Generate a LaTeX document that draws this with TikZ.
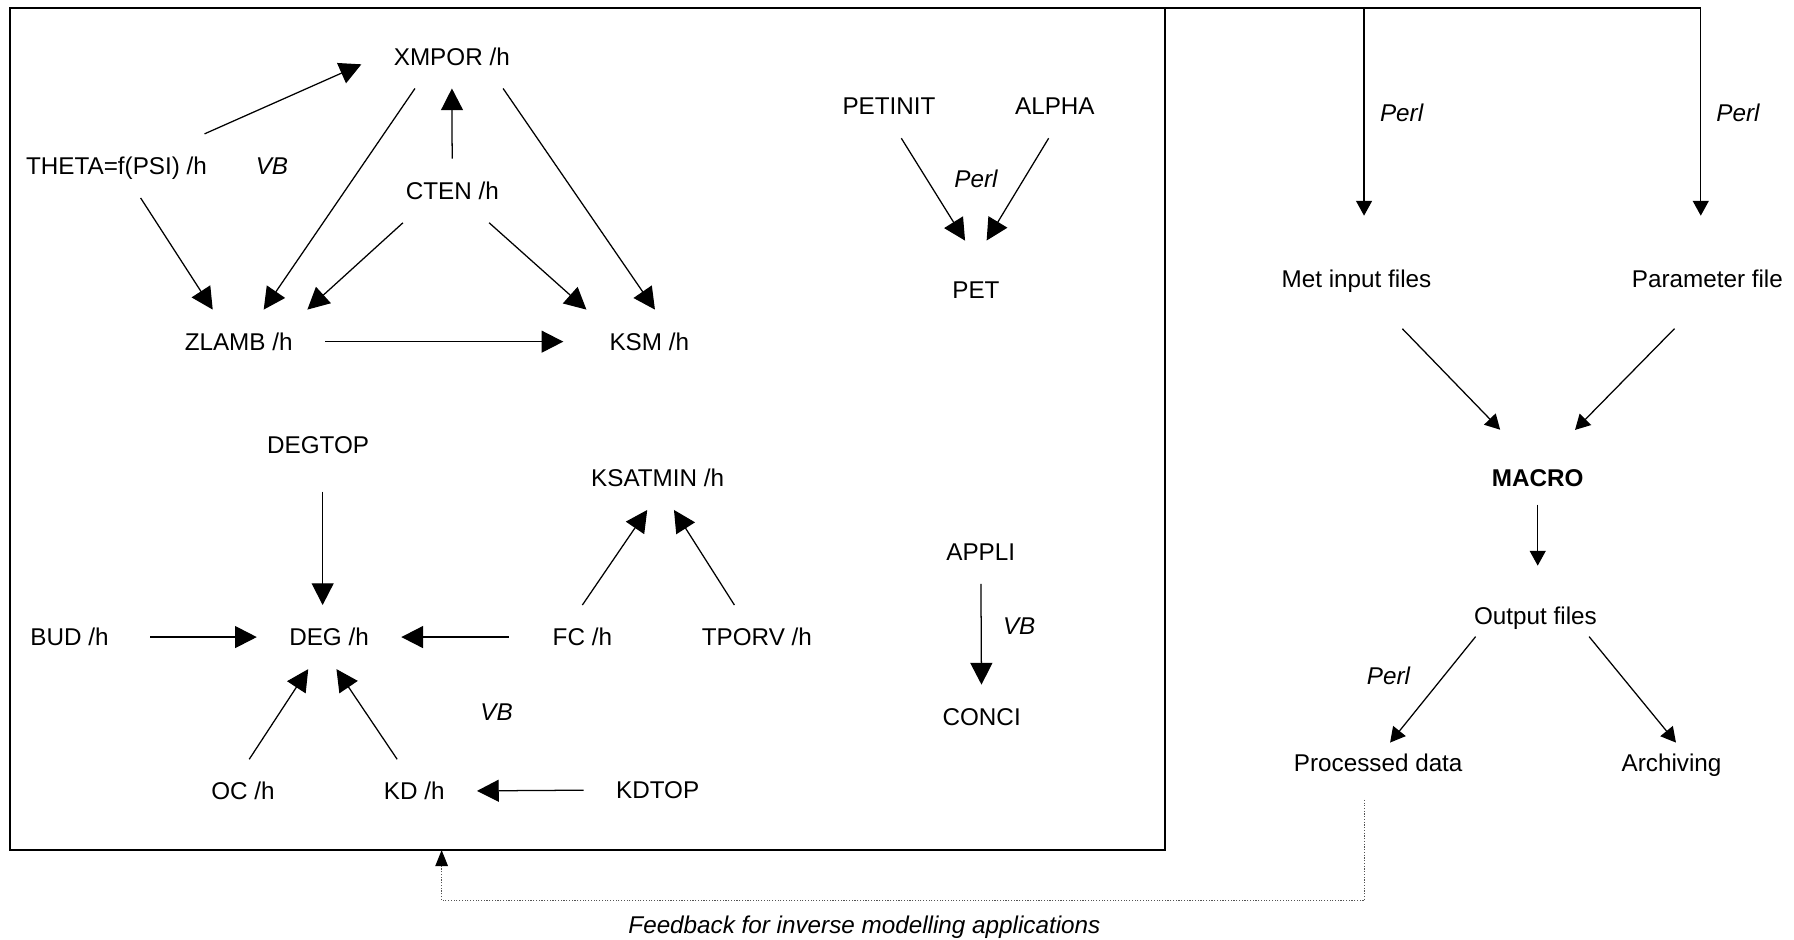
\documentclass[tikz,border=0pt]{standalone}
\usepackage{fontspec}
\setmainfont{Liberation Sans}
\usepackage{xcolor}
\usetikzlibrary{arrows.meta}
\definecolor{dotgray}{HTML}{555555}

\begin{document}
\begin{tikzpicture}[x=0.5pt,y=-0.5pt,
    lbl/.style={inner xsep=14pt,inner ysep=10pt,text height=7.6pt,text depth=0pt,
      font=\fontsize{10.6}{12}\selectfont},
    rlbl/.style={lbl,inner ysep=5pt},
    note/.style={lbl,inner sep=2pt,font=\fontsize{10.6}{12}\selectfont\itshape},
    arr/.style={line width=0.55pt,-{Triangle[length=9.5pt,width=9.6pt]}},
    sarr/.style={line width=0.55pt,-{Triangle[length=6.5pt,width=7pt]}},
    fb/.style={dotgray,line width=0.5pt,dash pattern=on 0.5pt off 0.7pt,
      -{Triangle[length=7pt,width=5.5pt,black]}}]
  \useasboundingbox (0,0) rectangle (1568,821);
  \node[draw,line width=0.9pt,outer sep=0pt,inner sep=0pt,anchor=north west,
    minimum width=504.5pt,minimum height=368pt] (model) at (9,7) {};

  \node[lbl] (xmpor) at (394.9,49.3) {XMPOR /h};
  \node[lbl] (theta) at (101.8,145) {THETA=f(PSI) /h};
  \node[note] (vbA) at (237.7,145) {VB};
  \node[lbl] (cten) at (395.3,166.7) {CTEN /h};
  \node[lbl] (zlamb) at (208.6,298.6) {ZLAMB /h};
  \node[lbl] (ksm) at (567.5,298.6) {KSM /h};
  \node[lbl] (petinit) at (777,92.8) {PETINIT};
  \node[lbl] (alpha) at (922,92.8) {ALPHA};
  \node[note] (perlA) at (853,156.5) {Perl};
  \node[lbl] (pet) at (853,253.6) {PET};
  \node[lbl] (degtop) at (278,388.7) {DEGTOP};
  \node[lbl] (ksatmin) at (574.8,417.7) {KSATMIN /h};
  \node[lbl] (bud) at (60.8,556.8) {BUD /h};
  \node[lbl] (deg) at (287.6,556.8) {DEG /h};
  \node[lbl] (fc) at (509,556.8) {FC /h};
  \node[lbl] (tporv) at (661.5,556.8) {TPORV /h};
  \node[note] (vbB) at (434,622) {VB};
  \node[lbl] (oc) at (212.4,691.6) {OC /h};
  \node[lbl] (kd) at (362,691.6) {KD /h};
  \node[lbl] (kdtop) at (574.8,690.2) {KDTOP};
  \node[lbl] (appli) at (857.2,482.3) {APPLI};
  \node[note] (vbC) at (890.8,546.7) {VB};
  \node[lbl] (conci) at (858,626.4) {CONCI};

  \node[note] (perlB) at (1225,98.6) {Perl};
  \node[note] (perlC) at (1519,98.6) {Perl};
  \node[rlbl] (met) at (1185.6,243.5) {Met input files};
  \node[rlbl] (param) at (1492.3,243.5) {Parameter file};
  \node[rlbl,font=\fontsize{10.6}{12}\selectfont\bfseries] (macro) at (1344,418) {MACRO};
  \node[rlbl] (output) at (1342,538.4) {Output files};
  \node[note] (perlD) at (1213.6,591) {Perl};
  \node[rlbl] (processed) at (1204.6,667) {Processed data};
  \node[rlbl] (archiving) at (1461,667) {Archiving};
  \node[note] (feedback) at (755.5,808) {Feedback for inverse modelling applications};

  \draw[arr] (theta.20) -- (xmpor.185);
  \draw[arr] (theta.307) -- (zlamb.129);
  \draw[arr] (xmpor.221) -- (zlamb.52);
  \draw[arr] (cten) -- (xmpor);
  \draw[arr] (cten.213) -- (zlamb.25);
  \draw[arr] (cten.319) -- (ksm.153);
  \draw[arr] (xmpor.328) -- (ksm.80);
  \draw[arr,shorten >=6pt] (zlamb) -- (ksm);
  \draw[arr,shorten >=9pt] (petinit.291) -- (pet.north);
  \draw[arr,shorten >=9pt] (alpha.259) -- (pet.north);
  \draw[arr,shorten <=6.5pt] ([xshift=2pt]degtop.south) -- ([xshift=2pt]degtop.south |- deg.north);
  \draw[arr,shorten <=4pt] (bud) -- (deg);
  \draw[arr,shorten <=5pt] (fc) -- (deg);
  \draw[arr] (oc.79) -- (deg.237);
  \draw[arr] (kd.118) -- (deg.283);
  \draw[arr] (kdtop) -- (kd);
  \draw[arr] (fc.north) -- (ksatmin.252);
  \draw[arr] (tporv.125) -- (ksatmin.297);
  \draw[arr] (appli) -- (conci);

  \draw[sarr,shorten >=18.5pt] (model.north east) -| ([xshift=3.3pt]met.north);
  \draw[sarr,shorten >=18.5pt] (model.north east) -| ([xshift=-2.9pt]param.north);
  \draw[sarr,shorten <=18pt,shorten >=17pt] (met.310) -- (macro.117);
  \draw[sarr,shorten <=18pt,shorten >=17pt] (param.259) -- (macro.64);
  \draw[sarr,shorten <=2.5pt,shorten >=13pt] (macro.south) -- (macro.south |- output.north);
  \draw[sarr] (output.199) -- (processed.60);
  \draw[sarr] (output.339) -- (archiving.78);

  \coordinate (fbin) at (386,743);
  \draw[fb] ([xshift=-6pt]processed.south) ++(0,14) -- ++(0,88) -| (fbin);
\end{tikzpicture}
\end{document}
